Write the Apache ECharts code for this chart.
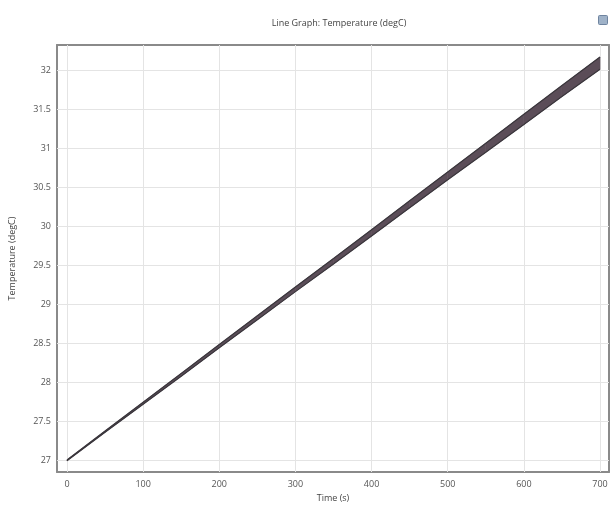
<!DOCTYPE html>
<html>
<head>
<meta charset="utf-8">
<script src="https://cdn.jsdelivr.net/npm/echarts@6/dist/echarts.min.js"></script>
<style>html,body{margin:0;padding:0;background:#fff}#c{width:612px;height:508px}</style>
</head>
<body>
<div id="c"></div>
<script>
// ---- data ----
var timeS = [0, 50, 100, 150, 200, 250, 300, 350, 400, 450, 500, 550, 600, 650, 700];
var tempLower = [26.995, 27.36, 27.72, 28.08, 28.445, 28.805, 29.165, 29.52, 29.88, 30.24, 30.6, 30.955, 31.31, 31.67, 32.02];
var tempUpper = [27.005, 27.375, 27.745, 28.115, 28.485, 28.855, 29.225, 29.59, 29.96, 30.33, 30.7, 31.07, 31.44, 31.81, 32.175];
var xTicks = [0, 100, 200, 300, 400, 500, 600, 700];
var yTicks = [27, 27.5, 28, 28.5, 29, 29.5, 30, 30.5, 31, 31.5, 32];

var chart = echarts.init(document.getElementById('c'), null, {renderer: 'canvas'});
var font = '"Open Sans", "DejaVu Sans", sans-serif';
var xMin = -13.1, xMax = 711.8, yMin = 26.85, yMax = 32.33;

var bandData = timeS.map(function (t, i) { return [t, tempLower[i], tempUpper[i]]; });
var lowerData = timeS.map(function (t, i) { return [t, tempLower[i]]; });
var upperData = timeS.map(function (t, i) { return [t, tempUpper[i]]; });

var gridMarks = xTicks.map(function (v) { return {xAxis: v}; })
  .concat(yTicks.map(function (v) { return {yAxis: v}; }));

function fmtY(v) { return String(+v.toFixed(1)); }

function renderBand(params, api) {
  var i = params.dataIndex;
  if (i >= timeS.length - 1) return null;
  var a = api.coord([timeS[i], tempLower[i]]);
  var b = api.coord([timeS[i + 1], tempLower[i + 1]]);
  var c = api.coord([timeS[i + 1], tempUpper[i + 1]]);
  var d = api.coord([timeS[i], tempUpper[i]]);
  return {
    type: 'polygon',
    shape: {points: [a, b, c, d]},
    style: {fill: '#5b4d58', stroke: '#5b4d58', lineWidth: 0.6}
  };
}

var axisLineStyle = {color: '#8a8a8a', width: 2};
chart.setOption({
  animation: false,
  title: {
    text: 'Line Graph: Temperature (degC)',
    left: 334, top: 14, textAlign: 'center',
    textStyle: {fontFamily: font, fontSize: 9, fontWeight: 'normal', color: '#444'}
  },
  grid: {left: 57, right: 3, top: 45, bottom: 34, show: false},
  xAxis: [{
    type: 'value', min: xMin, max: xMax, position: 'bottom',
    name: 'Time (s)', nameLocation: 'middle', nameGap: 22,
    nameTextStyle: {fontFamily: font, fontSize: 9, color: '#444'},
    axisLine: {show: true, lineStyle: axisLineStyle, onZero: false},
    axisTick: {show: true, inside: true, length: 4, lineStyle: {color: '#777'}, customValues: xTicks},
    axisLabel: {fontFamily: font, fontSize: 9, color: '#555', margin: 8, customValues: xTicks},
    splitLine: {show: false}
  }, {
    type: 'value', min: xMin, max: xMax, position: 'top',
    axisLine: {show: true, lineStyle: axisLineStyle, onZero: false},
    axisTick: {show: true, inside: true, length: 4, lineStyle: {color: '#777'}, customValues: xTicks},
    axisLabel: {show: false},
    splitLine: {show: false}
  }],
  yAxis: [{
    type: 'value', min: yMin, max: yMax, position: 'left',
    name: 'Temperature (degC)', nameLocation: 'middle', nameGap: 40, nameRotate: 90,
    nameTextStyle: {fontFamily: font, fontSize: 9, color: '#444'},
    axisLine: {show: true, lineStyle: axisLineStyle, onZero: false},
    axisTick: {show: true, inside: true, length: 4, lineStyle: {color: '#777'}, customValues: yTicks},
    axisLabel: {fontFamily: font, fontSize: 9, color: '#555', margin: 6, customValues: yTicks,
      formatter: fmtY},
    splitLine: {show: false}
  }, {
    type: 'value', min: yMin, max: yMax, position: 'right',
    axisLine: {show: true, lineStyle: axisLineStyle, onZero: false},
    axisTick: {show: true, inside: true, length: 4, lineStyle: {color: '#777'}, customValues: yTicks},
    axisLabel: {show: false},
    splitLine: {show: false}
  }],
  graphic: [{
    type: 'rect', right: 4, top: 15,
    shape: {width: 9, height: 9, r: 1},
    style: {fill: '#9fb2c8', stroke: '#6f84a0', lineWidth: 1}
  }],
  series: [{
    type: 'line', name: 'grid', data: [], z: 1, silent: true,
    markLine: {
      z: 1, silent: true, symbol: ['none', 'none'], label: {show: false},
      lineStyle: {color: '#e4e4e4', type: 'solid', width: 1},
      data: gridMarks, animation: false
    }
  }, {
    type: 'custom', name: 'band', data: bandData, z: 3,
    renderItem: renderBand,
    encode: {x: 0, y: [1, 2]}
  }, {
    type: 'line', name: 'lower', data: lowerData, z: 4,
    showSymbol: false, symbol: 'none',
    lineStyle: {color: '#3a363c', width: 1.2}
  }, {
    type: 'line', name: 'upper', data: upperData, z: 4,
    showSymbol: false, symbol: 'none',
    lineStyle: {color: '#3a363c', width: 1.2}
  }]
});
</script>
</body>
</html>
